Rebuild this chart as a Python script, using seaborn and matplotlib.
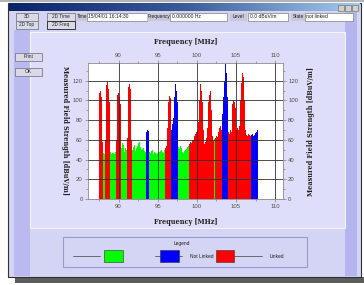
import numpy as np
import pandas as pd
import matplotlib
matplotlib.use("Agg")
import matplotlib.pyplot as plt
from matplotlib.patches import Rectangle
from matplotlib.ticker import MultipleLocator
import seaborn as sns

# FM band scan, one channel every 0.1 MHz from 87.5 MHz
band_start = 87.5
channel_step = 0.1

# measured field strength [dBuV/m], one row per MHz
levels = [
    100, 108, 110, 104, 96,                                 # 87.5
    58, 47, 46, 60, 104, 116, 120, 112, 98, 58,             # 88
    48, 46, 47, 50, 47, 46, 48, 60, 98, 106,                # 89
    108, 104, 96, 56, 52, 57, 55, 50, 48, 52,               # 90
    50, 62, 104, 114, 117, 112, 100, 60, 50, 53,            # 91
    55, 51, 49, 52, 54, 57, 60, 58, 53, 50,                 # 92
    48, 51, 52, 49, 48, 50, 68, 70, 69, 60,                 # 93
    48, 47, 49, 50, 47, 46, 48, 47, 46, 48,                 # 94
    47, 46, 48, 47, 49, 50, 48, 47, 51, 50,                 # 95
    52, 54, 58, 72, 98, 105, 102, 92, 70, 76,               # 96
    82, 104, 114, 117, 110, 98, 62, 53, 51, 54,             # 97
    52, 50, 48, 47, 49, 50, 52, 51, 53, 54,                 # 98
    52, 56, 58, 57, 60, 62, 60, 64, 66, 63,                 # 99
    68, 70, 78, 100, 112, 117, 110, 98, 70, 60,             # 100
    56, 58, 62, 60, 72, 98, 106, 110, 104, 90,              # 101
    64, 60, 58, 61, 62, 64, 63, 66, 68, 72,                 # 102
    74, 70, 76, 86, 104, 120, 132, 137, 128, 104,           # 103
    68, 64, 66, 70, 68, 90, 96, 100, 98, 92,                # 104
    74, 70, 72, 70, 74, 78, 100, 118, 128, 132,             # 105
    124, 100, 70, 65, 66, 64, 66, 65, 64, 66,               # 106
    65, 66, 64, 66, 65, 67, 68, 70, 72,                     # 107
]

# link state per channel: L = linked, N = not linked, - = no RDS link
states = (
    "LLLLL"
    "L--LLLLLLL"
    "-------LLL"
    "LLLL------"
    "-LLLLLLL--"
    "----------"
    "------NNNN"
    "----------"
    "----------"
    "LLLLLLLLNN"
    "NNNNNNN---"
    "----------"
    "-LLLLLLLLL"
    "LLLLLLLLLL"
    "LLLLLLLLLL"
    "LLL-LLLLLL"
    "LLNNNNNNNN"
    "LLLLLLLLLL"
    "LLLLLLLLLL"
    "LLLLLLLLLL"
    "NNNNNNNNN"
)

state_names = {"-": "", "N": "Not Linked", "L": "Linked"}
palette = {"": "#00ff00", "Not Linked": "#0000ff", "Linked": "#ff0000"}

freq_ticks = [90, 95, 100, 105, 110]
level_ticks = [0, 20, 40, 60, 80, 100, 120]

data = pd.DataFrame({
    "freq": np.round(band_start + channel_step * np.arange(len(levels)), 1),
    "level": levels,
    "state": [state_names[s] for s in states],
})

sns.set_theme(style="white")
plt.rcParams["font.family"] = ["Liberation Sans", "DejaVu Sans"]

W, H = 364, 285
fig = plt.figure(figsize=(W / 100, H / 100), dpi=100)
fig.patch.set_facecolor("white")

# window drawn in pixel coordinates
gui = fig.add_axes([0, 0, 1, 1])
gui.set_xlim(0, W)
gui.set_ylim(H, 0)
gui.axis("off")


def box(x, y, w, h, fc, ec="none", lw=0.6, z=1):
    gui.add_patch(Rectangle((x, y), w, h, facecolor=fc, edgecolor=ec,
                            linewidth=lw, zorder=z))


def label(x, y, s, size=3.8, ha="center", color="#202020", z=5, **kw):
    gui.text(x, y, s, fontsize=size, ha=ha, va="center", color=color,
             zorder=z, **kw)


box(0, 0, W, 2, "#b4b4b4")
box(15, 277, 349, 6, "#5c5c5c")
box(8, 3, 353, 274, "#d4d4f4", ec="#303030", lw=0.8)

# title bar
grad = np.linspace(0, 1, 200)[None, :]
title_cmap = matplotlib.colors.LinearSegmentedColormap.from_list(
    "title", ["#0a246a", "#3a5a9a", "#a6caf0"])
gui.imshow(grad, extent=(9, 360, 11.5, 4), aspect="auto", cmap=title_cmap, zorder=2)
for bx in (338, 345, 352):
    box(bx, 5, 6, 5.5, "#d4d0c8", ec="#606060", lw=0.4, z=3)
gui.set_xlim(0, W)
gui.set_ylim(H, 0)

# side stripes and plot panel
box(14, 30, 16, 246, "#babaf0")
box(345, 12, 12, 264, "#b4b4ee")
box(30, 32, 315, 196, "#dedefa", ec="#f4f4ff", lw=0.8)

# buttons
for (bx, by, bw, txt) in [(16, 13, 22, "3D"), (47, 13, 28, "2D Time"),
                          (16, 21, 22, "2D Top"), (47, 21, 28, "2D Freq"),
                          (15, 53, 27, "Print"), (15, 68, 27, "OK")]:
    edge = "#202020" if txt == "2D Freq" else "#7c7c90"
    box(bx, by, bw, 7.5, "#dadae6", ec=edge, lw=0.6, z=3)
    label(bx + bw / 2, by + 3.9, txt, size=3.4)

# status fields
for (lx, lw_, ltxt, ex, ew, etxt) in [
        (77, 10, "Time", 87, 60, "15/04/01 16:14:30"),
        (147, 23, "Frequency", 170, 57, "0.000000 Hz"),
        (230, 17, "Level", 248, 40, "0.0 dBuV/m"),
        (291, 14, "State", 305, 48, "not linked")]:
    box(lx, 13, lw_, 7.5, "#c8c8d8", z=3)
    label(lx + lw_ / 2, 16.9, ltxt, size=3.4)
    box(ex, 13, ew, 7.5, "white", ec="#808080", lw=0.5, z=3)
    label(ex + 1.5, 16.9, etxt, size=3.6, ha="left")

# legend panel
box(63, 237, 244, 30, "#d4d4f4", ec="#9a9ac8", lw=0.8, z=3)
label(182, 243.5, "Legend", size=3.5)
gui.plot([73, 100], [256, 256], color="#404040", lw=0.5, zorder=4)
box(104, 250, 19, 12, palette[""], ec="#303030", lw=0.4, z=4)
gui.plot([155, 182], [256, 256], color="#404040", lw=0.5, zorder=4)
box(160, 250, 19, 12, palette["Not Linked"], ec="#303030", lw=0.4, z=5)
label(190, 256.5, "Not Linked", size=3.5, ha="left")
gui.plot([234, 262], [256, 256], color="#404040", lw=0.5, zorder=4)
box(216, 250, 18, 12, palette["Linked"], ec="#303030", lw=0.4, z=5)
label(270, 256.5, "Linked", size=3.5, ha="left")

# spectrum plot
x0, x1, y0, y1 = 88, 283, 63, 199
ax = fig.add_axes([x0 / W, 1 - y1 / H, (x1 - x0) / W, (y1 - y0) / H])
ax.set_facecolor("white")

# one bin per channel, weighted by the measured level
half = channel_step / 2
sns.histplot(data=data, x="freq", weights="level", hue="state", palette=palette,
             binwidth=channel_step,
             binrange=(data["freq"].min() - half, data["freq"].max() + half),
             multiple="layer", element="step", fill=True, alpha=1,
             linewidth=0, legend=False, ax=ax)

ax.set_xlim(86.1, 111.0)
ax.set_ylim(0, 138)
ax.set_xticks(freq_ticks)
ax.set_yticks(level_ticks)
ax.xaxis.set_minor_locator(MultipleLocator(2.5))
ax.yaxis.set_minor_locator(MultipleLocator(10))
ax.set_xlabel("")
ax.set_ylabel("")
ax.set_axisbelow(False)
ax.grid(True, which="major", color="#303030", linewidth=0.6)
ax.tick_params(which="both", direction="out", color="#808080", width=0.5,
               labelsize=4.3, labelcolor="#505050", pad=1.2,
               top=True, labeltop=True, right=True, labelright=True,
               bottom=True, left=True)
ax.tick_params(which="major", length=2.5)
ax.tick_params(which="minor", length=1.5)
for sp in ax.spines.values():
    sp.set_color("#8a8a8a")
    sp.set_linewidth(0.6)

axis_font = dict(family="DejaVu Serif", weight="bold", size=4.7, color="#202020")
label(186, 42, "Frequency [MHz]", **axis_font)
label(186, 222, "Frequency [MHz]", **axis_font)
label(65, 131, "Measured Field Strength [dBuV/m]", rotation=270,
      rotation_mode="anchor", **axis_font)
label(311, 131, "Measured Field Strength [dBuV/m]", rotation=90,
      rotation_mode="anchor", **axis_font)

fig.savefig("out.png", dpi=100)
